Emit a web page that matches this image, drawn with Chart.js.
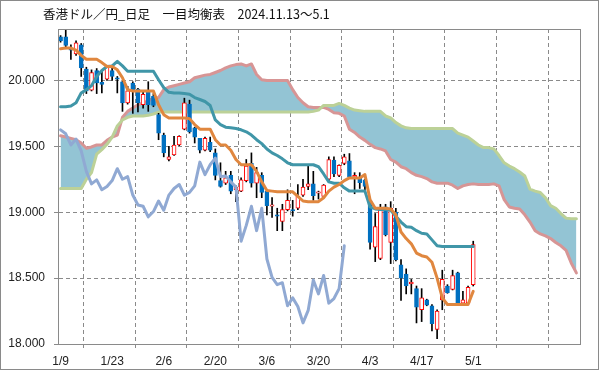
<!DOCTYPE html>
<html>
<head>
<meta charset="utf-8">
<title>香港ドル／円 一目均衡表</title>
<script src="https://cdn.jsdelivr.net/npm/chart.js@4.4.1/dist/chart.umd.min.js"></script>
<style>
  body { margin: 0; background: #fff; }
  canvas { display: block; }
</style>
</head>
<body>
<canvas id="ichimoku" width="599" height="370"></canvas>
<script>
// x axis labels, one every 10 trading days
const tickLabels = ['1/9', '1/23', '2/6', '2/20', '3/6', '3/20', '4/3', '4/17', '5/1', '', ''];

// daily candles (index 0 = 1/9 ... 80 = 5/1)
const open = [
  20.33, 20.33, 20.245, 20.20, 20.27, 20.085, 19.925, 20.075, 19.985, 20.01,
  20.075, 20.02, 19.99, 19.83, 19.98, 19.935, 19.815, 19.915, 19.88, 19.74,
  19.585, 19.40, 19.435, 19.51, 19.63, 19.82, 19.64, 19.56, 19.47, 19.53,
  19.45, 19.24, 19.22, 19.28, 19.17, 19.16, 19.24, 19.37, 19.22, 19.28,
  19.16, 19.045, 18.98, 18.93, 19.02, 19.02, 19.03, 19.13, 19.195, 19.215,
  19.145, 19.12, 19.25, 19.395, 19.28, 19.37, 19.39, 19.265, 19.26, 19.245,
  19.085, 18.735, 18.65, 19.04, 18.77, 19.0, 18.60, 18.53, 18.455, 18.42,
  18.26, 18.335, 18.29, 18.11, 18.335, 18.44, 18.415, 18.54, 18.31, 18.31, 18.45
];
const high = [
  20.34, 20.39, 20.27, 20.30, 20.28, 20.10, 20.08, 20.09, 20.07, 20.115,
  20.10, 20.03, 20.0, 19.955, 19.99, 19.94, 19.92, 19.99, 19.90, 19.75,
  19.60, 19.50, 19.575, 19.58, 19.865, 19.85, 19.645, 19.56, 19.57, 19.57,
  19.48, 19.375, 19.31, 19.31, 19.20, 19.26, 19.40, 19.45, 19.34, 19.30,
  19.17, 19.11, 19.03, 19.06, 19.17, 19.09, 19.21, 19.25, 19.35, 19.31,
  19.16, 19.21, 19.42, 19.42, 19.36, 19.44, 19.445, 19.30, 19.30, 19.25,
  19.09, 18.99, 19.06, 19.06, 19.08, 19.03, 18.64, 18.57, 18.49, 18.44,
  18.42, 18.34, 18.30, 18.26, 18.56, 18.45, 18.56, 18.545, 18.40, 18.44, 18.78
];
const low = [
  20.29, 20.24, 20.16, 20.19, 20.03, 19.90, 19.92, 19.90, 19.905, 20.0,
  20.0, 19.905, 19.765, 19.82, 19.75, 19.76, 19.79, 19.765, 19.80, 19.55,
  19.42, 19.39, 19.43, 19.505, 19.625, 19.60, 19.525, 19.45, 19.465, 19.46,
  19.245, 19.19, 19.21, 19.14, 19.08, 19.155, 19.23, 19.19, 19.11, 19.11,
  18.98, 18.96, 18.86, 18.86, 19.01, 18.97, 19.02, 19.12, 19.17, 19.09,
  19.10, 19.11, 19.24, 19.27, 19.27, 19.36, 19.26, 19.14, 19.18, 19.15,
  18.72, 18.625, 18.64, 18.82, 18.61, 18.63, 18.33, 18.38, 18.38, 18.16,
  18.17, 18.29, 18.10, 18.04, 18.26, 18.385, 18.41, 18.30, 18.30, 18.30, 18.44
];
const close = [
  20.30, 20.265, 20.23, 20.285, 20.095, 19.92, 20.06, 19.98, 19.97, 20.10,
  20.03, 20.01, 19.83, 19.92, 19.92, 19.83, 19.895, 19.815, 19.81, 19.60,
  19.45, 19.42, 19.51, 19.575, 19.83, 19.61, 19.57, 19.47, 19.56, 19.47,
  19.28, 19.195, 19.26, 19.16, 19.19, 19.245, 19.35, 19.22, 19.30, 19.15,
  19.05, 19.055, 18.97, 19.02, 19.09, 19.01, 19.12, 19.19, 19.215, 19.125,
  19.155, 19.205, 19.40, 19.29, 19.355, 19.42, 19.27, 19.28, 19.225, 19.195,
  18.77, 18.89, 19.03, 18.83, 19.03, 18.64, 18.50, 18.44, 18.47, 18.28,
  18.35, 18.295, 18.155, 18.25, 18.49, 18.39, 18.52, 18.31, 18.335, 18.43, 18.755
];

// 転換線
const tenkan = [
  20.24, 20.245, 20.245, 20.23, 20.19, 20.16, 20.16, 20.16, 20.135, 20.105,
  20.105, 20.08, 20.02, 19.93, 19.92, 19.92, 19.92, 19.92, 19.92, 19.815,
  19.74, 19.715, 19.715, 19.715, 19.715, 19.71, 19.665, 19.63, 19.63, 19.63,
  19.55, 19.51, 19.51, 19.47, 19.40, 19.36, 19.36, 19.36, 19.31, 19.23,
  19.165, 19.16, 19.155, 19.155, 19.155, 19.155, 19.12, 19.085, 19.08, 19.08,
  19.08, 19.11, 19.16, 19.19, 19.21, 19.24, 19.26, 19.26, 19.26, 19.285,
  19.095, 19.03, 19.03, 19.03, 19.025, 18.98, 18.85, 18.80, 18.76, 18.69,
  18.67, 18.66, 18.62, 18.50, 18.35, 18.30, 18.30, 18.30, 18.30, 18.30, 18.40
];
// 基準線
const kijun = [
  19.80, 19.80, 19.805, 19.83, 19.905, 19.93, 19.96, 20.03, 20.075, 20.105,
  20.11, 20.145, 20.11, 20.07, 20.07, 20.07, 20.07, 20.07, 20.07, 20.005,
  19.945, 19.91, 19.905, 19.905, 19.90, 19.895, 19.87, 19.855, 19.84, 19.81,
  19.70, 19.665, 19.645, 19.64, 19.635, 19.625, 19.61, 19.585, 19.55, 19.52,
  19.48, 19.45, 19.43, 19.405, 19.375, 19.36, 19.36, 19.36, 19.36, 19.36,
  19.345, 19.29, 19.23, 19.22, 19.22, 19.185, 19.16, 19.16, 19.16, 19.16,
  19.04, 19.025, 19.02, 19.02, 19.015, 18.97, 18.925, 18.89, 18.885, 18.86,
  18.84, 18.835, 18.79, 18.745, 18.74, 18.74, 18.74, 18.74, 18.74, 18.74, 18.74
];
// 先行スパン1 (index 0..100)
const senkouA = [
  19.58, 19.57, 19.56, 19.55, 19.525, 19.485, 19.495, 19.51, 19.51, 19.545,
  19.57, 19.585, 19.72, 19.765, 19.79, 19.815, 19.83, 19.845, 19.865, 19.87,
  19.93, 19.95, 19.96, 19.97, 19.98, 19.99, 20.02, 20.03, 20.04, 20.045,
  20.06, 20.075, 20.095, 20.11, 20.12, 20.125, 20.11, 20.125, 20.045, 20.005,
  20.0, 20.0, 20.0, 20.0, 20.0, 19.93, 19.87, 19.83, 19.80, 19.795,
  19.795, 19.795, 19.78, 19.755, 19.75, 19.73, 19.63, 19.605, 19.57, 19.545,
  19.515, 19.49, 19.48, 19.465, 19.40, 19.38, 19.345, 19.33, 19.30, 19.28,
  19.27, 19.255, 19.23, 19.22, 19.22, 19.22, 19.205, 19.18, 19.20, 19.21,
  19.215, 19.21, 19.21, 19.21, 19.215, 19.20, 19.095, 19.04, 19.03, 19.025,
  18.98, 18.925, 18.86, 18.835, 18.82, 18.80, 18.77, 18.745, 18.71, 18.615,
  18.54
];
// 先行スパン2 (index 0..100)
const senkouB = [
  19.18, 19.18, 19.18, 19.18, 19.18, 19.25, 19.30, 19.44, 19.475, 19.515,
  19.57, 19.655, 19.70, 19.72, 19.73, 19.73, 19.73, 19.735, 19.745, 19.76,
  19.76, 19.76, 19.76, 19.76, 19.76, 19.76, 19.76, 19.76, 19.76, 19.76,
  19.76, 19.76, 19.76, 19.76, 19.76, 19.76, 19.76, 19.76, 19.76, 19.76,
  19.76, 19.76, 19.76, 19.76, 19.76, 19.76, 19.76, 19.76, 19.76, 19.765,
  19.775, 19.81, 19.81, 19.81, 19.825, 19.81, 19.79, 19.775, 19.77, 19.765,
  19.765, 19.765, 19.765, 19.73, 19.715, 19.68, 19.655, 19.64, 19.635, 19.635,
  19.635, 19.635, 19.635, 19.635, 19.635, 19.635, 19.635, 19.60, 19.585, 19.57,
  19.54, 19.51, 19.49, 19.49, 19.48, 19.43, 19.375, 19.35, 19.33, 19.305,
  19.275, 19.175, 19.16, 19.15, 19.11, 19.05, 19.03, 18.99, 18.955, 18.95,
  18.95
];
// 遅行スパン (index 0..55)
const chikou = [
  19.625, 19.595, 19.51, 19.555, 19.465, 19.31, 19.215, 19.245, 19.17, 19.195,
  19.24, 19.33, 19.25, 19.27, 19.13, 19.055, 19.045, 18.965, 19.005, 19.085,
  19.015, 19.13, 19.18, 19.21, 19.13, 19.15, 19.2, 19.38, 19.285, 19.36,
  19.41, 19.27, 19.275, 19.23, 19.19, 18.78, 18.9, 19.045, 18.86, 19.03,
  18.645, 18.505, 18.45, 18.465, 18.29, 18.35, 18.285, 18.16, 18.255, 18.485,
  18.38, 18.52, 18.31, 18.345, 18.42, 18.745
];

const UP = '#FF0000', DOWN = '#0070C0', GRID = '#8a8a8a';
const pts = arr => arr.map((v, i) => ({ x: i + 0.5, y: v }));
const isUp = i => close[i] >= open[i];

const line = (label, data, color, order) => ({
  type: 'line', label, data: pts(data), borderColor: color, borderWidth: 3,
  pointRadius: 0, tension: 0, fill: false, order,
  borderCapStyle: 'round', borderJoinStyle: 'round'
});

// plot frame, outer frame and title
const frame = {
  id: 'frame',
  afterDraw(chart) {
    const { ctx, chartArea: a } = chart;
    ctx.save();
    ctx.strokeStyle = GRID;
    ctx.lineWidth = 1;
    ctx.strokeRect(a.left + 0.5, a.top + 0.5, a.right - a.left, a.bottom - a.top);
    ctx.strokeRect(0.5, 0.5, chart.width - 1, chart.height - 1);
    ctx.fillStyle = '#111';
    ctx.font = '12.5px "Noto Sans CJK JP"';
    ctx.textBaseline = 'middle';
    ctx.fillText('香港ドル／円_日足　一目均衡表　2024.11.13～5.1', 43, 14);
    ctx.restore();
  }
};

Chart.defaults.font.family = '"Liberation Sans", Arial, sans-serif';
Chart.defaults.font.size = 12;
Chart.defaults.color = '#222';

new Chart(document.getElementById('ichimoku'), {
  type: 'bar',
  data: {
    datasets: [
      Object.assign(line('先行スパン1', senkouA, '#D79595', 7), {
        fill: { target: 1, above: '#93C4D4', below: '#93C4D4' }
      }),
      line('先行スパン2', senkouB, '#BCD197', 6),
      {
        label: 'wick', data: low.map((l, i) => ({ x: i + 0.5, y: [l, high[i]] })),
        backgroundColor: '#000', borderWidth: 0, barThickness: 1, grouped: false, order: 5
      },
      {
        label: 'body', data: open.map((o, i) => ({ x: i + 0.5, y: [o, close[i]] })),
        backgroundColor: c => isUp(c.dataIndex) ? '#FFFFFF' : DOWN,
        borderColor: c => isUp(c.dataIndex) ? UP : DOWN,
        borderWidth: 1, borderSkipped: false, barThickness: 4, grouped: false, order: 4
      },
      line('遅行スパン', chikou, '#90A9D3', 3),
      line('基準線', kijun, '#4096A8', 2),
      line('転換線', tenkan, '#E0873F', 1)
    ]
  },
  options: {
    responsive: false,
    animation: false,
    devicePixelRatio: 1,
    layout: { padding: { top: 29, right: 19, left: 0, bottom: 0 } },
    plugins: { legend: { display: false }, tooltip: { enabled: false } },
    scales: {
      x: {
        type: 'linear', min: 0, max: 101.2, offset: false,
        afterFit: s => { s.height = 26; },
        ticks: {
          stepSize: 10, includeBounds: false, autoSkip: false, maxRotation: 0,
          labelOffset: 2.6, padding: 6,
          callback: v => tickLabels[Math.round(v / 10)] || ''
        },
        grid: { color: GRID, tickLength: 4, tickColor: GRID },
        border: { color: GRID, dash: [4, 3] }
      },
      y: {
        min: 18, max: 20.39,
        afterFit: s => { s.width = 58; },
        ticks: {
          stepSize: 0.5, includeBounds: false, padding: 9,
          callback: v => v.toFixed(3)
        },
        grid: { color: GRID, tickLength: 4, tickColor: GRID },
        border: { color: GRID, dash: [4, 3] }
      }
    }
  },
  plugins: [frame]
});
</script>
</body>
</html>
